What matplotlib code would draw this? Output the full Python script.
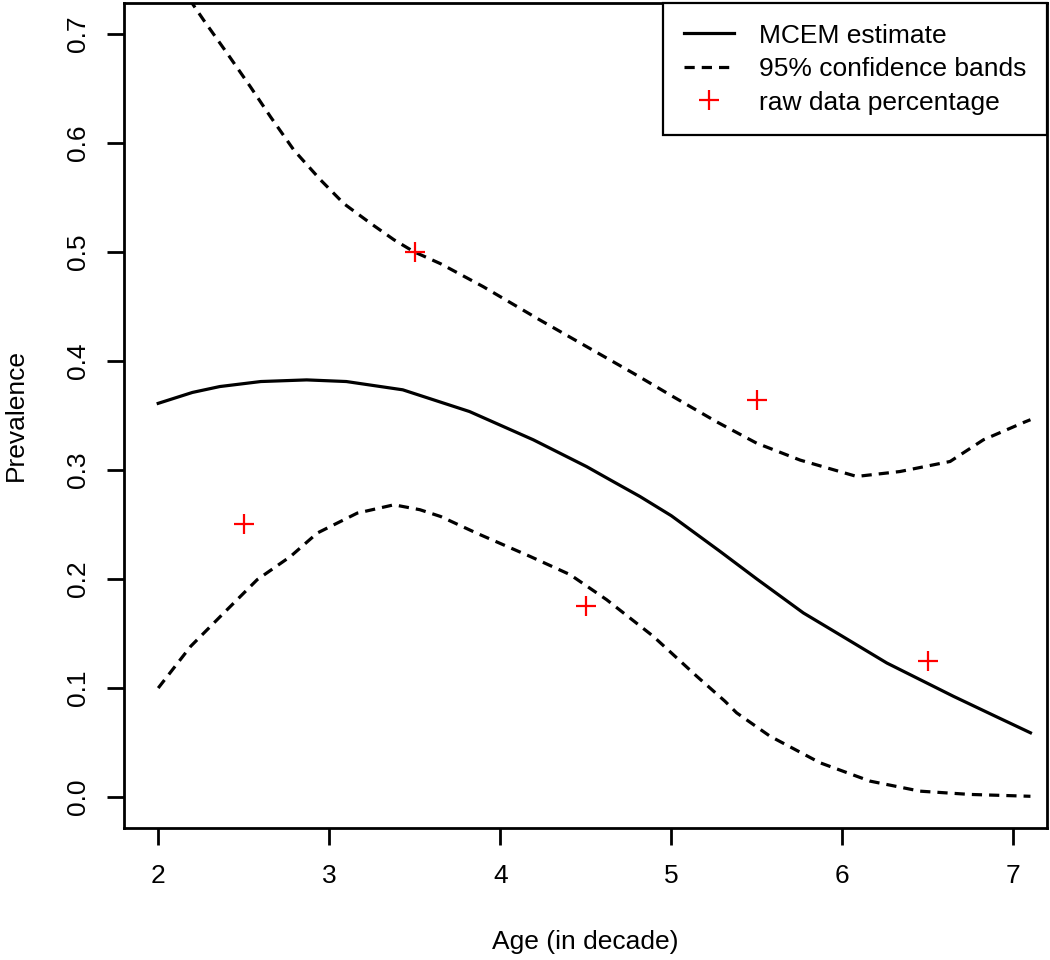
import matplotlib
matplotlib.use("Agg")
import matplotlib.pyplot as plt

plt.rcParams['font.family'] = ['Liberation Sans', 'DejaVu Sans']

# MCEM estimate (solid)
est_x = [2.0, 2.2, 2.36, 2.6, 2.868, 3.1, 3.43, 3.82, 4.193, 4.505, 4.641,
         4.817, 5.0, 5.285, 5.5, 5.772, 6.0, 6.26, 6.649, 6.9, 7.1]
est_y = [0.361, 0.371, 0.3764, 0.381, 0.3825, 0.381, 0.3734, 0.3535, 0.3276,
         0.303, 0.291, 0.2756, 0.258, 0.2253, 0.200, 0.1689, 0.1475, 0.123,
         0.0925, 0.0738, 0.059]

# upper 95% band
up_x = [2.0, 2.213, 2.267, 2.404, 2.54, 2.657, 2.794, 2.95, 3.086, 3.242,
        3.378, 3.495, 3.651, 3.90, 4.232, 4.505, 4.778, 5.012, 5.266, 5.499,
        5.753, 6.084, 6.337, 6.63, 6.825, 7.068, 7.1]
up_y = [0.774, 0.7244, 0.712, 0.6817, 0.651, 0.6236, 0.593, 0.5657, 0.544,
        0.526, 0.511, 0.500, 0.489, 0.468, 0.4374, 0.413, 0.3886, 0.367,
        0.344, 0.3245, 0.309, 0.294, 0.2985, 0.3077, 0.3276, 0.344, 0.346]

# lower 95% band
lo_x = [2.0, 2.19, 2.384, 2.579, 2.774, 2.93, 3.164, 3.378, 3.53, 3.651,
        3.862, 4.174, 4.408, 4.622, 4.895, 5.149, 5.314, 5.382, 5.577, 5.87,
        6.162, 6.454, 6.746, 7.1]
lo_y = [0.100, 0.1383, 0.1689, 0.1994, 0.2207, 0.2421, 0.2604, 0.268, 0.2635,
        0.2573, 0.242, 0.2207, 0.204, 0.181, 0.1474, 0.1108, 0.0879, 0.0773,
        0.0559, 0.0315, 0.0147, 0.0055, 0.0025, 0.0008]

# raw data percentages
raw_x = [2.5, 3.5, 4.5, 5.5, 6.5]
raw_y = [0.25, 0.50, 0.175, 0.364, 0.125]

x_ticks = [2, 3, 4, 5, 6, 7]
y_ticks = [0.0, 0.1, 0.2, 0.3, 0.4, 0.5, 0.6, 0.7]
y_ticklabels = ["0.0", "0.1", "0.2", "0.3", "0.4", "0.5", "0.6", "0.7"]

FS = 19

fig = plt.figure(figsize=(10.5, 9.6), dpi=100)
ax = fig.add_axes([124 / 1050, 1 - 827.7 / 960, (1046.7 - 124) / 1050, (827.7 - 3) / 960])

dash = (0, (3.2, 2.2))
ax.plot(est_x, est_y, color='black', lw=2.3, label='MCEM estimate')
ax.plot(up_x, up_y, color='black', lw=2.3, linestyle=dash, label='95% confidence bands')
ax.plot(lo_x, lo_y, color='black', lw=2.3, linestyle=dash)
ax.plot(raw_x, raw_y, linestyle='none', marker='+', color='#ff0000',
        markersize=14, markeredgewidth=1.6, label='raw data percentage')

ax.set_xlim(1.8, 7.195)
ax.set_ylim(-0.028, 0.728)
ax.set_xticks(x_ticks)
ax.set_xticklabels([str(t) for t in x_ticks])
ax.set_yticks(y_ticks)
ax.set_yticklabels(y_ticklabels, rotation=90, va='center')

for s in ax.spines.values():
    s.set_linewidth(2.0)
ax.tick_params(axis='both', length=12.2, width=2.0, labelsize=FS, colors='black')
ax.tick_params(axis='x', pad=14)
ax.tick_params(axis='y', pad=12)

ax.set_xlabel('Age (in decade)', fontsize=FS)
ax.set_ylabel('Prevalence', fontsize=FS)
ax.xaxis.set_label_coords(0.5, -0.124)
ax.yaxis.set_label_coords(-0.104, 0.5)

leg = ax.legend(loc='upper right', fontsize=FS, frameon=True, fancybox=False,
                borderaxespad=0, borderpad=0.78, labelspacing=0.36,
                handlelength=1.9, handletextpad=0.95, framealpha=1)
leg.get_frame().set_edgecolor('black')
leg.get_frame().set_linewidth(1.6)

fig.savefig('out.png', dpi=100)
